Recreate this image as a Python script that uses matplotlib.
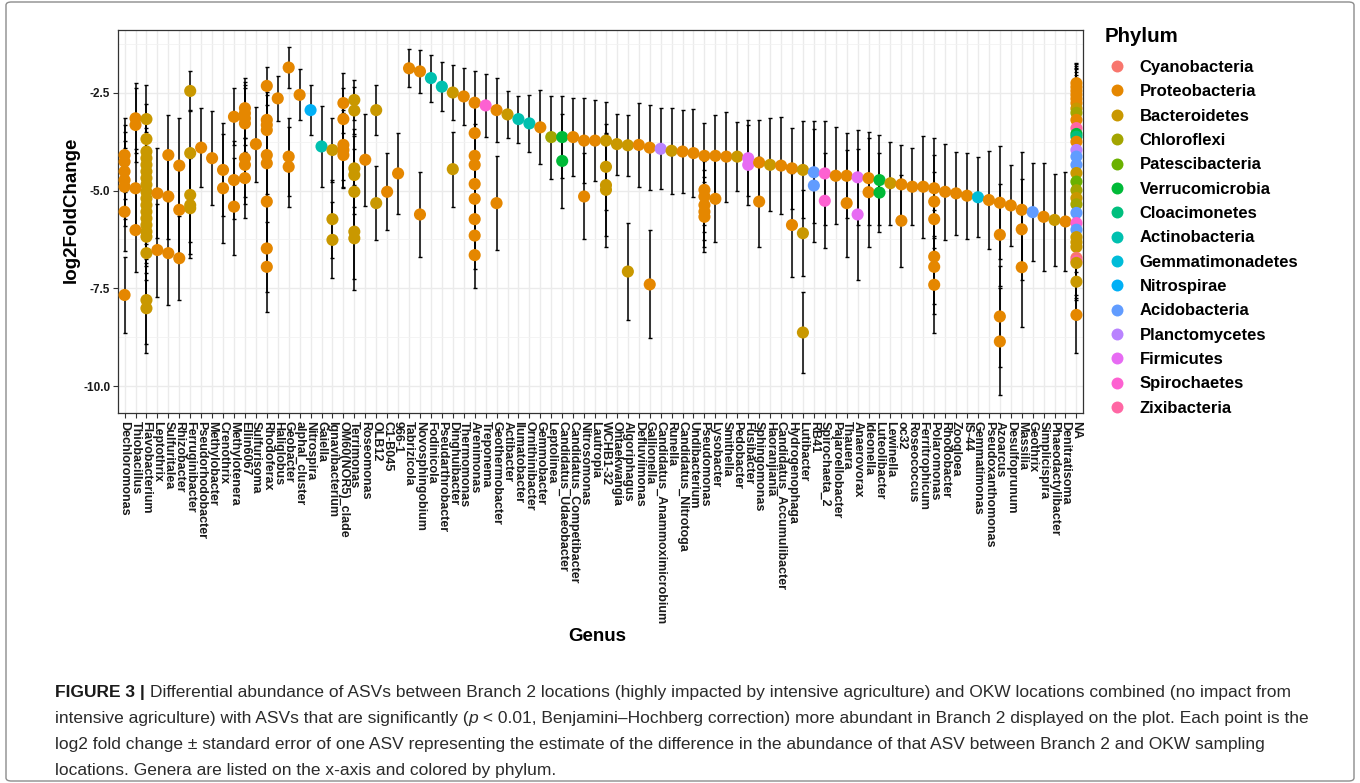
import numpy as np
import matplotlib
matplotlib.use("Agg")
import matplotlib.pyplot as plt
from matplotlib.lines import Line2D
from matplotlib.patches import FancyBboxPatch
from matplotlib.ticker import FixedLocator, FormatStrFormatter

plt.rcParams['font.family'] = ['Liberation Sans', 'DejaVu Sans']
plt.rcParams['axes.unicode_minus'] = False

# ggplot default hue palette, one colour per phylum (legend order)
phyla = ["Cyanobacteria", "Proteobacteria", "Bacteroidetes", "Chloroflexi",
         "Patescibacteria", "Verrucomicrobia", "Cloacimonetes", "Actinobacteria",
         "Gemmatimonadetes", "Nitrospirae", "Acidobacteria", "Planctomycetes",
         "Firmicutes", "Spirochaetes", "Zixibacteria"]
phylum_colors = ["#F8766D", "#E58700", "#C99800", "#A3A500", "#6BB100", "#00BA38",
                 "#00BF7D", "#00C0AF", "#00BCD8", "#00B0F6", "#619CFF", "#B983FF",
                 "#E76BF3", "#FD61D1", "#FF67A4"]

genera = ["Dechloromonas", "Thiobacillus", "Flavobacterium", "Leptothrix", "Sulfuritalea",
          "Rhizobacter", "Ferruginibacter", "Pseudorhodobacter", "Methylobacter", "Crenothrix",
          "Methylotenera", "Ellin6067", "Sulfurisoma", "Rhodoferax", "Haliglobus", "Geobacter",
          "alphaI_cluster", "Nitrospira", "Gaiella", "Ignavibacterium", "OM60(NOR5)_clade",
          "Terrimonas", "Roseomonas", "OLB12", "C1-B045", "966-1", "Tabrizicola",
          "Novosphingobium", "Fodinicola", "Pseudarthrobacter", "Dinghuibacter", "Thermomonas",
          "Arenimonas", "Treponema", "Geothermobacter", "Actibacter", "Ilumatobacter",
          "Ornithinibacter", "Gemmobacter", "Leptolinea", "Candidatus_Udaeobacter",
          "Candidatus_Competibacter", "Nitrosomonas", "Lautropia", "WCHB1-32", "Ohtaekwangia",
          "Algoriphagus", "Defluviimonas", "Gallionella", "Candidatus_Anammoximicrobium",
          "Runella", "Candidatus_Nitrotoga", "Undibacterium", "Pseudomonas", "Lysobacter",
          "Smithella", "Pedobacter", "Fusibacter", "Sphingomonas", "Haoranjiania",
          "Candidatus_Accumulibacter", "Hydrogenophaga", "Lutibacter", "RB41", "Spirochaeta_2",
          "Pajaroellobacter", "Thauera", "Anaerovorax", "Ideonella", "Luteolibacter",
          "Lewinella", "oc32", "Roseococcus", "Ferritrophicum", "Polaromonas", "Rhodobacter",
          "Zoogloea", "IS-44", "Gemmatimonas", "Pseudoxanthomonas", "Azoarcus", "Desulfoprunum",
          "Massilia", "Geothrix", "Simplicispira", "Phaeodactylibacter", "Denitratisoma", "NA"]

P, B, A = "Proteobacteria", "Bacteroidetes", "Actinobacteria"
genus_phylum = [P, P, B, P, P, P, B, P, P, P,
                P, P, P, P, P, P, P, "Nitrospirae", A, B,
                P, B, P, B, P, P, P, P, A, A,
                B, P, P, "Spirochaetes", P, B, A, A, P, "Chloroflexi",
                "Verrucomicrobia", P, P, P, B, B, B, P, P, "Planctomycetes",
                B, P, P, P, P, P, B, "Firmicutes", P, B,
                P, P, B, "Acidobacteria", "Spirochaetes", P, P, "Firmicutes", P, "Verrucomicrobia",
                B, P, P, P, P, P, P, P, "Gemmatimonadetes", P,
                P, P, P, "Acidobacteria", P, B, P, None]

# log2 fold change of each ASV, grouped by genus (same order as genera)
lfc = [
    [-4.09, -4.26, -4.51, -4.73, -4.90, -5.54, -7.67],
    [-3.15, -3.32, -4.94, -6.01],
    [-3.17, -3.68, -4.00, -4.17, -4.34, -4.51, -4.68, -4.85, -5.03, -5.20, -5.37, -5.54,
     -5.71, -5.88, -6.05, -6.18, -6.60, -7.80, -8.01],
    [-5.07, -6.52],
    [-4.09, -5.15, -6.60],
    [-4.36, -5.49, -6.73],
    [-2.45, -4.04, -5.11, -5.37, -5.45],
    [-3.90],
    [-4.17],
    [-4.47, -4.94],
    [-3.11, -4.73, -5.41],
    [-2.89, -3.02, -3.15, -3.28, -4.17, -4.34, -4.68],
    [-3.81],
    [-2.32, -3.19, -3.32, -3.45, -4.09, -4.30, -5.28, -6.48, -6.95],
    [-2.64],
    [-1.85, -4.13, -4.39],
    [-2.55],
    [-2.94],
    [-3.87],
    [-3.96, -5.73, -6.26],
    [-2.76, -3.17, -3.83, -3.96, -4.09],
    [-2.68, -2.95, -4.43, -4.60, -5.03, -6.05, -6.22],
    [-4.21],
    [-2.94, -5.32],
    [-5.03],
    [-4.56],
    [-1.87],
    [-1.95, -5.61],
    [-2.12],
    [-2.34],
    [-2.49, -4.45],
    [-2.59],
    [-2.75, -3.53, -4.11, -4.34, -4.83, -5.21, -5.73, -6.15, -6.65],
    [-2.82],
    [-2.94, -5.32],
    [-3.05],
    [-3.17],
    [-3.28],
    [-3.38],
    [-3.63],
    [-3.63, -4.24],
    [-3.63],
    [-3.72, -5.15],
    [-3.72],
    [-3.72, -4.39, -4.86, -4.98],
    [-3.81],
    [-3.84, -7.07],
    [-3.83],
    [-3.90, -7.40],
    [-3.93],
    [-3.98],
    [-4.00],
    [-4.04],
    [-4.11, -4.98, -5.15, -5.37, -5.54, -5.67],
    [-4.11, -5.21],
    [-4.13],
    [-4.13],
    [-4.17, -4.34],
    [-4.28, -5.28],
    [-4.34],
    [-4.36],
    [-4.43, -5.88],
    [-4.47, -6.09, -8.63],
    [-4.53, -4.87],
    [-4.56, -5.26],
    [-4.62],
    [-4.62, -5.32],
    [-4.66, -5.61],
    [-4.68, -5.04],
    [-4.73, -5.05],
    [-4.81],
    [-4.84, -5.77],
    [-4.90],
    [-4.90],
    [-4.94, -5.28, -5.73, -6.69, -6.95, -7.41],
    [-5.03],
    [-5.07],
    [-5.13],
    [-5.17],
    [-5.24],
    [-5.31, -6.13, -8.22, -8.86],
    [-5.38],
    [-5.49, -5.99, -6.96],
    [-5.55],
    [-5.67],
    [-5.75],
    [-5.79],
    [-2.25, -2.35, -2.45, -2.55, -2.65, -2.76, -2.90, -3.01, -3.19, -3.40, -3.55, -3.62,
     -3.75, -3.96, -4.13, -4.34, -4.55, -4.77, -4.99, -5.19, -5.35, -5.57, -5.83, -6.00,
     -6.19, -6.32, -6.44, -6.72, -6.80, -6.85, -7.33, -8.18],
]

# standard error of each ASV (same shape as lfc)
se = [
    [0.94, 0.95, 1.00, 1.00, 1.00, 1.00, 0.98],
    [0.90, 0.95, 1.00, 1.06],
    [0.87, 0.90, 0.95, 0.95, 0.95, 1.00, 1.00, 1.00, 1.00, 1.00, 1.00, 1.05,
     1.05, 1.05, 1.05, 1.10, 1.10, 1.12, 1.15],
    [1.15, 1.19],
    [1.03, 1.10, 1.33],
    [1.21, 1.10, 1.07],
    [0.50, 1.10, 1.20, 1.25, 1.28],
    [1.02],
    [1.20],
    [1.19, 1.40],
    [0.73, 1.00, 1.24],
    [0.77, 0.80, 0.85, 0.90, 1.00, 1.00, 1.03],
    [0.96],
    [0.49, 0.80, 0.85, 0.90, 1.00, 1.00, 1.10, 1.12, 1.15],
    [0.57],
    [0.52, 1.00, 1.02],
    [0.65],
    [0.64],
    [1.03],
    [0.81, 1.00, 0.98],
    [0.76, 0.80, 0.90, 0.95, 0.85],
    [0.51, 0.60, 1.00, 1.00, 1.10, 1.20, 1.32],
    [1.18],
    [0.64, 0.94],
    [0.99],
    [1.03],
    [0.49],
    [0.55, 1.08],
    [0.60],
    [0.62],
    [0.71, 0.96],
    [0.72],
    [0.80, 0.80, 0.82, 0.82, 0.82, 0.84, 0.84, 0.85, 0.85],
    [0.80],
    [0.82, 1.20],
    [0.60],
    [0.60],
    [0.72],
    [0.95],
    [1.06],
    [1.04, 1.20],
    [1.00],
    [1.08, 1.10],
    [1.04],
    [1.00, 1.10, 1.30, 1.45],
    [0.78],
    [0.78, 1.24],
    [1.07],
    [1.09, 1.38],
    [1.04],
    [1.10],
    [1.06],
    [1.13],
    [0.83, 0.90, 0.90, 0.90, 0.90, 0.89],
    [1.05, 1.10],
    [1.15],
    [0.88],
    [0.98, 1.03],
    [1.09, 1.15],
    [1.19],
    [1.25],
    [1.03, 1.32],
    [1.24, 1.10, 1.03],
    [1.30, 1.44],
    [1.33, 1.22],
    [1.24],
    [1.09, 1.37],
    [1.21, 1.68],
    [1.19, 1.39],
    [1.15, 1.00],
    [1.06],
    [1.01, 1.18],
    [0.98],
    [1.30],
    [1.28, 1.20, 1.20, 1.20, 1.20, 1.24],
    [1.23],
    [1.07],
    [1.10],
    [1.02],
    [1.25],
    [1.44, 1.30, 1.30, 1.37],
    [1.03],
    [1.49, 1.30, 1.52],
    [1.25],
    [1.38],
    [1.17],
    [1.27],
    [0.52, 0.60, 0.65, 0.70, 0.75, 0.80, 0.85, 0.90, 0.90, 0.90, 0.90, 0.90,
     0.90, 0.90, 0.90, 0.90, 0.90, 0.90, 0.90, 0.90, 0.90, 0.90, 0.90, 0.90,
     0.90, 0.90, 0.90, 0.95, 0.95, 0.95, 0.95, 0.97],
]

# phylum of each unassigned (NA genus) ASV
na_phylum = [P, P, P, P, P, P, B, "Chloroflexi", P, "Zixibacteria", "Verrucomicrobia",
             "Cloacimonetes", P, "Planctomycetes", "Acidobacteria", "Acidobacteria", B,
             "Patescibacteria", "Chloroflexi", B, "Chloroflexi", "Acidobacteria",
             "Spirochaetes", "Acidobacteria", B, B, B, "Cyanobacteria", "Zixibacteria",
             B, B, P]

caption_lines = [
    "Differential abundance of ASVs between Branch 2 locations (highly impacted by intensive agriculture) and OKW locations combined (no impact from",
    "intensive agriculture) with ASVs that are significantly (",
    "log2 fold change \u00b1 standard error of one ASV representing the estimate of the difference in the abundance of that ASV between Branch 2 and OKW sampling",
    "locations. Genera are listed on the x-axis and colored by phylum.",
]
caption_line2_rest = " < 0.01, Benjamini\u2013Hochberg correction) more abundant in Branch 2 displayed on the plot. Each point is the"

# flatten
xs, ys, es, cs = [], [], [], []
for i, (vals, errs) in enumerate(zip(lfc, se)):
    for j, (v, e) in enumerate(zip(vals, errs)):
        ph = genus_phylum[i] if genus_phylum[i] is not None else na_phylum[j]
        xs.append(i)
        ys.append(v)
        es.append(e)
        cs.append(phylum_colors[phyla.index(ph)])

W, H = 1360, 783
fig = plt.figure(figsize=(W / 100, H / 100), dpi=100)
ax = fig.add_axes([118 / W, 1 - 413 / H, 965 / W, 383 / H])

ax.errorbar(xs, ys, yerr=es, fmt='none', ecolor='black', elinewidth=1.1,
            capsize=1.6, capthick=1.0, zorder=2)
ax.scatter(xs, ys, s=76, c=cs, edgecolors='none', zorder=3)

ax.set_xlim(-0.6, len(genera) - 1 + 0.6)
ax.set_ylim(-10.69, -0.89)
ax.set_xticks(np.arange(len(genera)))
ax.set_xticklabels(genera, rotation=-90, ha='center', va='top',
                   fontsize=9, fontweight='bold')
ax.yaxis.set_major_locator(FixedLocator([-10, -7.5, -5, -2.5]))
ax.yaxis.set_minor_locator(FixedLocator([-8.75, -6.25, -3.75, -1.25]))
ax.yaxis.set_major_formatter(FormatStrFormatter('%.1f'))
for lab in ax.get_yticklabels():
    lab.set_fontweight('bold')
    lab.set_fontsize(8.5)
ax.tick_params(axis='both', which='major', length=3.5, width=0.8, color='#333333',
               pad=2, labelcolor='#1a1a1a')
ax.tick_params(axis='y', which='minor', length=0)

ax.set_facecolor('white')
ax.grid(True, which='major', color='#EBEBEB', lw=1.0, zorder=0)
ax.grid(True, which='minor', axis='y', color='#F2F2F2', lw=0.6, zorder=0)
ax.set_axisbelow(True)
for sp in ax.spines.values():
    sp.set_color('#333333')
    sp.set_linewidth(0.9)

ax.set_xlabel('Genus', fontsize=13.5, fontweight='bold')
ax.xaxis.set_label_coords(0.497, -0.562)
ax.set_ylabel('log2FoldChange', fontsize=13.5, fontweight='bold')
ax.yaxis.set_label_coords(-0.040, 0.53)

# legend (title drawn separately so the gap matches ggplot's)
fig.text(1105 / W, 1 - 36 / H, 'Phylum', fontsize=14.8, fontweight='bold',
         ha='left', va='center')
handles = [Line2D([], [], ls='none', marker='o', ms=8.6, mfc=c, mec='none')
           for c in phylum_colors]
leg = fig.legend(handles, phyla, loc='upper left', bbox_to_anchor=(1108.5 / W, 1 - 60 / H),
                 frameon=False, prop={'weight': 'bold', 'size': 12},
                 handlelength=1.0, handletextpad=0.88, labelspacing=0.56,
                 borderaxespad=0, borderpad=0)

# outer frame
fig.patches.append(FancyBboxPatch((6 / W, 2 / H), 1348 / W, 779 / H,
                                  boxstyle='round,pad=0,rounding_size=0.004',
                                  transform=fig.transFigure, fc='none',
                                  ec='#8c8c8c', lw=1.0))

# caption
cap_font = ['Liberation Sans', 'DejaVu Sans']
cap_size = 12.5
cap_color = '#2b2b2b'
x0 = 55
baselines = [697, 723, 749, 775]
renderer = fig.canvas.get_renderer()


def place_after(prev, text, **kw):
    bb = prev.get_window_extent(renderer)
    return fig.text(bb.x1 / W, prev.get_position()[1], text, va='baseline', **kw)


t = fig.text(x0 / W, 1 - baselines[0] / H, "FIGURE 3 | ", fontsize=cap_size,
             fontweight='bold', family=cap_font, color='#1a1a1a', va='baseline')
place_after(t, caption_lines[0], fontsize=cap_size, family=cap_font, color=cap_color)

t2 = fig.text(x0 / W, 1 - baselines[1] / H, caption_lines[1], fontsize=cap_size,
              family=cap_font, color=cap_color, va='baseline')
t3 = place_after(t2, "p", fontsize=cap_size, family=cap_font, color=cap_color,
                 style='italic')
place_after(t3, caption_line2_rest, fontsize=cap_size, family=cap_font, color=cap_color)

for k in (2, 3):
    fig.text(x0 / W, 1 - baselines[k] / H, caption_lines[k], fontsize=cap_size,
             family=cap_font, color=cap_color, va='baseline')

fig.savefig('out.png', dpi=100)
